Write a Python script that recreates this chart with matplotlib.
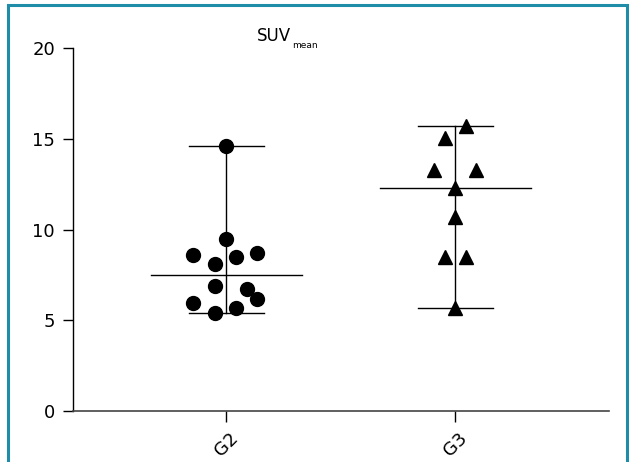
import numpy as np
import matplotlib
matplotlib.use("Agg")
import matplotlib.pyplot as plt
from matplotlib.patches import Rectangle

plt.rcParams['font.family'] = ['Liberation Sans Narrow', 'DejaVu Sans']

# ---- data ----
groups = ["G2", "G3"]
g2_values = [14.6, 9.46, 8.6, 8.1, 8.5, 8.69, 6.89, 6.74, 5.97, 6.17, 5.66, 5.42]
g2_offsets = [0.0, 0.0, -0.144, -0.048, 0.044, 0.135, -0.048, 0.092, -0.144, 0.135, 0.044, -0.048]
g3_values = [15.7, 15.02, 13.28, 13.28, 12.3, 10.7, 8.5, 8.5, 5.7]
g3_offsets = [0.047, -0.047, -0.092, 0.092, 0.0, 0.0, -0.047, 0.047, 0.0]
y_ticks = [0, 5, 10, 15, 20]

fig = plt.figure(figsize=(6.29, 4.62), dpi=100)
ax = fig.add_axes([0.116, 0.110, 0.852, 0.786])

series = [(g2_values, g2_offsets, 'o', 10), (g3_values, g3_offsets, '^', 10)]
for i, (vals, offs, mk, ms) in enumerate(series):
    xpos = i + 1
    vals = np.array(vals)
    med, lo, hi = np.median(vals), vals.min(), vals.max()
    # range + median lines
    ax.plot([xpos, xpos], [lo, hi], color='black', lw=1.0, zorder=1)
    ax.plot([xpos - 0.165, xpos + 0.165], [lo, lo], color='black', lw=1.0, zorder=1)
    ax.plot([xpos - 0.165, xpos + 0.165], [hi, hi], color='black', lw=1.0, zorder=1)
    ax.plot([xpos - 0.33, xpos + 0.33], [med, med], color='black', lw=1.0, zorder=1)
    ax.plot(xpos + np.array(offs), vals, linestyle='none', marker=mk,
            color='black', markersize=ms, zorder=3)

ax.set_xlim(0.33, 2.67)
ax.set_ylim(0, 20)
ax.set_yticks(y_ticks)
ax.set_xticks([1, 2])
ax.set_xticklabels(groups, rotation=45, ha='center')
ax.tick_params(axis='y', length=7, width=1, pad=6, labelsize=13)
ax.tick_params(axis='x', length=8, width=1, pad=5, labelsize=13)
for s in ['top', 'right']:
    ax.spines[s].set_visible(False)
ax.spines['left'].set_linewidth(1)
ax.spines['bottom'].set_linewidth(1.2)
ax.spines['bottom'].set_color('#444444')

fig.text(257 / 629, 1 - 36 / 462, "SUV", fontsize=12, ha='left', va='center')
fig.text(292 / 629, 1 - 46 / 462, "mean", fontsize=6.5, ha='left', va='center')

# teal frame around the figure
fig.patches.append(Rectangle((8 / 629, -0.05), 619 / 629, 1.05 - 5 / 462,
                             transform=fig.transFigure, fill=False,
                             edgecolor='#1f8da8', linewidth=2.2))

plt.savefig("out.png", dpi=100)
